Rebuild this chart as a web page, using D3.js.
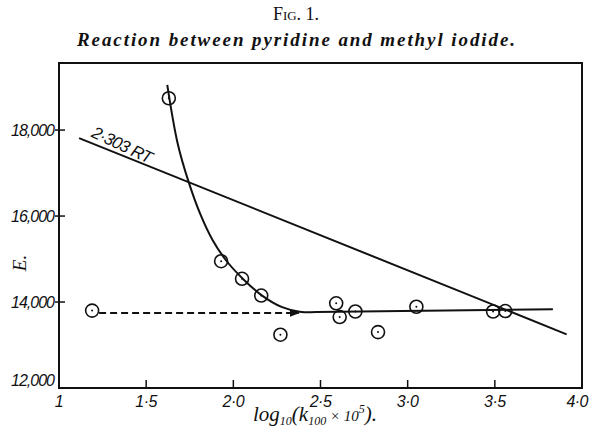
<!DOCTYPE html>
<meta charset="utf-8">
<script src="https://d3js.org/d3.v7.min.js"></script>
<style>
  body { margin: 0; background: #fff; }
  text { fill: #111; }
</style>
<body>
<div id="chart"></div>
<script>

// measured points: log10(k100 x 10^5) against E
var logk   = [1.19, 1.63, 1.93, 2.05, 2.16, 2.27, 2.59, 2.61, 2.70, 2.83, 3.05, 3.49, 3.56];
var energy = [13800, 18740, 14950, 14540, 14150, 13240, 13970, 13650, 13780, 13300, 13890, 13780, 13790];

// hand drawn curve through the points
var curveX = [1.621, 1.68, 1.743, 1.81, 1.88, 1.96, 2.06, 2.165, 2.28, 2.38, 2.48];
var curveE = [19050, 17700, 16800, 16050, 15450, 14960, 14520, 14150, 13880, 13775, 13765];

// flat part of the curve
var flatX = [2.48, 3.833];
var flatE = [13765, 13830];

// 2.303 RT line
var rtX = [1.115, 3.912];
var rtE = [17814, 13249];

// dashed line
var dashX = [1.23, 2.375];
var dashE = [13745, 13745];

var xTicks = [1, 1.5, 2, 2.5, 3, 3.5, 4];
var xTickLabels = ["1", "1·5", "2·0", "2·5", "3·0", "3·5", "4·0"];
var yTicks = [12000, 14000, 16000, 18000];
var yTickLabels = ["12,000", "14,000", "16,000", "18,000"];

var W = 589, H = 431;
var svg = d3.select("#chart").append("svg")
  .attr("width", W)
  .attr("height", H);

var x = d3.scaleLinear().domain([1, 4]).range([59, 582]);
var y = d3.scaleLinear().domain([12000, 19560]).range([388, 63]);

// titles
svg.append("text")
  .attr("x", 296).attr("y", 20)
  .attr("text-anchor", "middle")
  .style("font-family", "'Liberation Serif', serif")
  .style("font-size", "18px")
  .html('F<tspan style="font-size:13px">IG</tspan>. 1.');

svg.append("text")
  .attr("x", 77).attr("y", 46)
  .attr("textLength", 438)
  .attr("lengthAdjust", "spacing")
  .style("font-family", "'Liberation Serif', serif")
  .style("font-size", "19px")
  .style("font-style", "italic")
  .style("font-weight", "bold")
  .text("Reaction between pyridine and methyl iodide.");

// frame
svg.append("rect")
  .attr("x", x(1)).attr("y", y(19560))
  .attr("width", x(4) - x(1))
  .attr("height", y(12000) - y(19560))
  .attr("fill", "none")
  .attr("stroke", "#111")
  .attr("stroke-width", 2);

// x ticks, pointing inwards
svg.append("g")
  .selectAll("line")
  .data(xTicks.slice(1, -1))
  .enter().append("line")
    .attr("x1", function(d) { return x(d); })
    .attr("x2", function(d) { return x(d); })
    .attr("y1", y(12000))
    .attr("y2", y(12000) - 8)
    .attr("stroke", "#111")
    .attr("stroke-width", 1.5);

svg.append("g")
  .selectAll("text")
  .data(xTicks)
  .enter().append("text")
    .attr("x", function(d) { return x(d); })
    .attr("y", 407)
    .attr("text-anchor", function(d, i) { return i == 6 ? "end" : "middle"; })
    .attr("dx", function(d, i) { return i == 6 ? 6 : 0; })
    .style("font-family", "'Liberation Sans', sans-serif")
    .style("font-size", "16px")
    .style("font-style", "italic")
    .style("letter-spacing", "-0.5px")
    .text(function(d, i) { return xTickLabels[i]; });

// y ticks, crossing the frame
svg.append("g")
  .selectAll("line")
  .data(yTicks.slice(1))
  .enter().append("line")
    .attr("x1", x(1) - 4)
    .attr("x2", x(1) + 6)
    .attr("y1", function(d) { return y(d); })
    .attr("y2", function(d) { return y(d); })
    .attr("stroke", "#111")
    .attr("stroke-width", 1.5);

svg.append("g")
  .selectAll("text")
  .data(yTicks)
  .enter().append("text")
    .attr("x", 54)
    .attr("y", function(d, i) { return y(d) + (i == 0 ? -2 : 6); })
    .attr("text-anchor", "end")
    .style("font-family", "'Liberation Sans', sans-serif")
    .style("font-size", "16px")
    .style("font-style", "italic")
    .style("letter-spacing", "-1px")
    .text(function(d, i) { return yTickLabels[i]; });

// axis titles
svg.append("text")
  .attr("transform", "translate(26,263)rotate(-90)")
  .attr("text-anchor", "middle")
  .style("font-family", "'Liberation Serif', serif")
  .style("font-size", "19px")
  .style("font-style", "italic")
  .text("E.");

svg.append("text")
  .attr("x", 253).attr("y", 421)
  .style("font-family", "'Liberation Serif', serif")
  .style("font-size", "21px")
  .style("font-style", "italic")
  .html('log<tspan dy="4" style="font-size:12px">10</tspan><tspan dy="-4">(k</tspan><tspan dy="4" style="font-size:12px">100</tspan><tspan dy="-4" style="font-size:15px"> × 10</tspan><tspan dy="-8" style="font-size:12px">5</tspan><tspan dy="8">).</tspan>');

var line = d3.line()
  .x(function(d) { return x(d[0]); })
  .y(function(d) { return y(d[1]); });

// 2.303 RT line
svg.append("path")
  .datum(d3.zip(rtX, rtE))
  .attr("d", line)
  .attr("fill", "none")
  .attr("stroke", "#111")
  .attr("stroke-width", 2);

var ang = Math.atan2(y(rtE[1]) - y(rtE[0]), x(rtX[1]) - x(rtX[0])) * 180 / Math.PI;
var lx = 1.18, ly = rtE[0] + (lx - rtX[0]) * (rtE[1] - rtE[0]) / (rtX[1] - rtX[0]);
svg.append("text")
  .attr("transform", "translate(" + x(lx) + "," + (y(ly) - 6) + ")rotate(" + (ang + 3) + ")")
  .style("font-family", "'Liberation Sans', sans-serif")
  .style("font-size", "17px")
  .style("font-style", "italic")
  .style("letter-spacing", "-0.8px")
  .text("2·303 RT");

// curve
svg.append("path")
  .datum(d3.zip(curveX, curveE))
  .attr("d", line.curve(d3.curveCatmullRom.alpha(0.5)))
  .attr("fill", "none")
  .attr("stroke", "#111")
  .attr("stroke-width", 2);

svg.append("path")
  .datum(d3.zip(flatX, flatE))
  .attr("d", line.curve(d3.curveLinear))
  .attr("fill", "none")
  .attr("stroke", "#111")
  .attr("stroke-width", 2);

// dashed line with arrow
svg.append("defs").append("marker")
  .attr("id", "arrow")
  .attr("viewBox", "0 0 10 10")
  .attr("refX", 9).attr("refY", 5)
  .attr("markerWidth", 5).attr("markerHeight", 5)
  .attr("orient", "auto")
  .append("path")
    .attr("d", "M0,1L10,5L0,9z")
    .attr("fill", "#111");

svg.append("path")
  .datum(d3.zip(dashX, dashE))
  .attr("d", line)
  .attr("fill", "none")
  .attr("stroke", "#111")
  .attr("stroke-width", 2)
  .attr("stroke-dasharray", "7,4")
  .attr("marker-end", "url(#arrow)");

// points: open circles with a centre dot
var pts = svg.append("g")
  .selectAll("g")
  .data(d3.zip(logk, energy))
  .enter().append("g")
    .attr("transform", function(d) { return "translate(" + x(d[0]) + "," + y(d[1]) + ")"; });

pts.append("circle")
  .attr("r", 6.5)
  .attr("fill", "none")
  .attr("stroke", "#111")
  .attr("stroke-width", 1.6);

pts.append("circle")
  .attr("r", 1)
  .attr("fill", "#111");

</script>
</body>
